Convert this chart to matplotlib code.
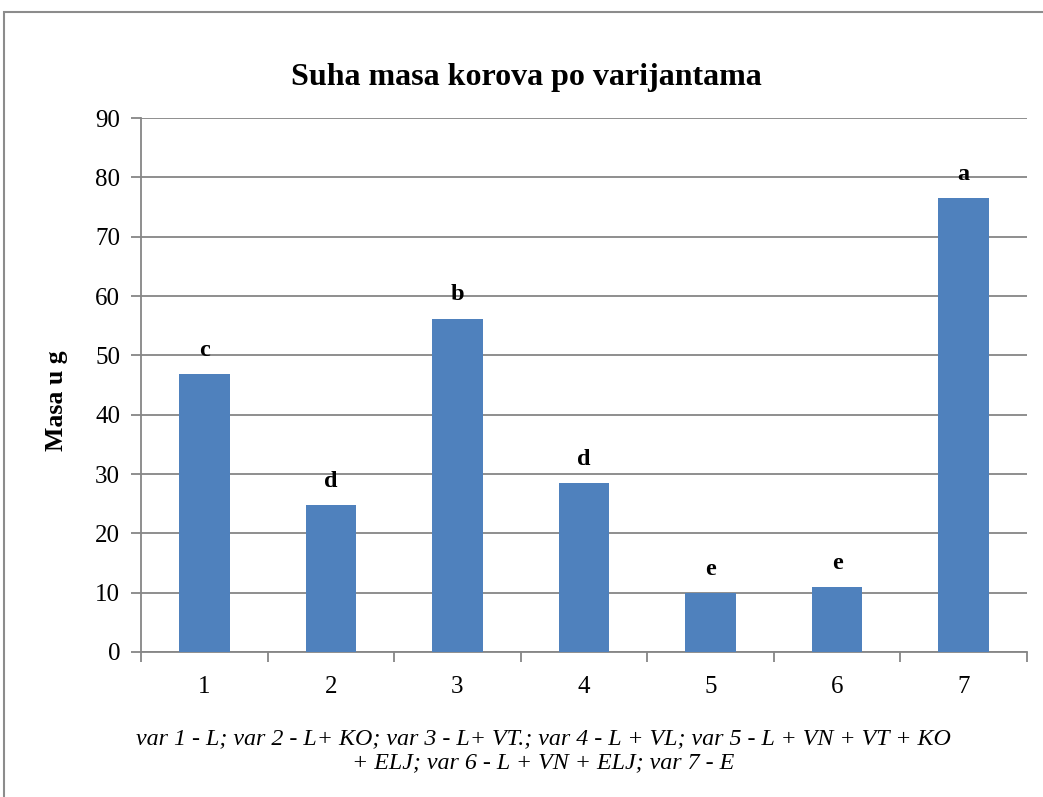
import numpy as np
import matplotlib
matplotlib.use("Agg")
import matplotlib.pyplot as plt
from matplotlib.patches import Rectangle

# data
varijante = [1, 2, 3, 4, 5, 6, 7]
masa = [46.8, 24.8, 56.2, 28.4, 10.0, 10.9, 76.5]
slova = ['c', 'd', 'b', 'd', 'e', 'e', 'a']
y_ticks = [0, 10, 20, 30, 40, 50, 60, 70, 80, 90]

plt.rcParams['font.family'] = ['Liberation Serif', 'DejaVu Serif']

fig = plt.figure(figsize=(10.43, 7.97), dpi=100)
ax = fig.add_axes([141/1043, 1-652/797, (1027-141)/1043, (652-118)/797])

grid_col = '#868686'
x = np.arange(len(varijante))
ax.bar(x, masa, width=0.4, color='#4f81bd', zorder=3)

for xi, v, s in zip(x, masa, slova):
    ax.text(xi, v + 2.2, s, ha='center', va='bottom', fontsize=17.5,
            fontweight='bold', zorder=4)

ax.set_xlim(-0.5, len(varijante) - 0.5)
ax.set_ylim(0, 90)
ax.set_yticks(y_ticks)
ax.yaxis.grid(True, color=grid_col, linewidth=1.3, zorder=0)
ax.set_axisbelow(True)

ax.set_xticks(np.arange(-0.5, len(varijante)), labels=[])
ax.set_xticks(x, labels=[str(v) for v in varijante], minor=True)
ax.tick_params(axis='x', which='major', length=7, width=1.3, color=grid_col)
ax.tick_params(axis='x', which='minor', length=0, pad=17, labelsize=18)
ax.tick_params(axis='y', length=7, width=1.3, color=grid_col, pad=8, labelsize=18)

for side in ['top', 'right']:
    ax.spines[side].set_visible(False)
for side in ['left', 'bottom']:
    ax.spines[side].set_color(grid_col)
    ax.spines[side].set_linewidth(1.3)

fig.text(57/1043, 1-401/797, 'Masa u g', rotation=90, ha='center', va='center',
         fontsize=18.5, fontweight='bold')

fig.text(526/1043, 1-78/797, 'Suha masa korova po varijantama',
         ha='center', va='center', fontsize=23, fontweight='bold')
fig.text(543/1043, 1-751/797,
         'var 1 - L; var 2 - L+ KO; var 3 - L+ VT.; var 4 - L + VL; var 5 - L + VN + VT + KO\n'
         '+ ELJ; var 6 - L + VN + ELJ; var 7 - E',
         ha='center', va='center', fontsize=17.3, style='italic', linespacing=1.2)

# outer chart border
fig.patches.append(Rectangle((4/1043, -0.05), 1.1, 1.05 - 12/797,
                             transform=fig.transFigure, fill=False,
                             edgecolor='#8c8c8c', linewidth=1.5))

fig.savefig('out.png', dpi=100)
